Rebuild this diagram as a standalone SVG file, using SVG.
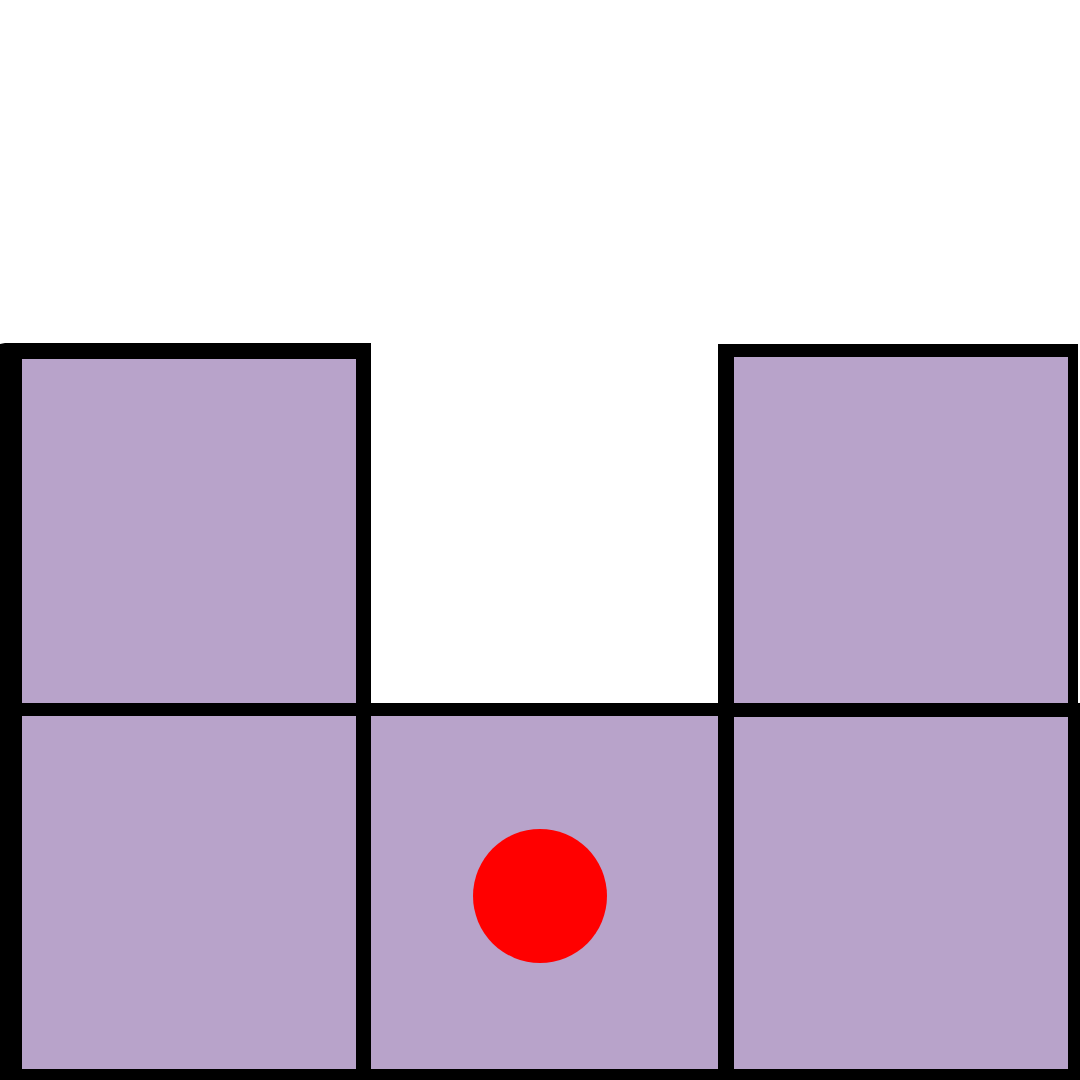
<svg xmlns="http://www.w3.org/2000/svg" width="1080" height="1080" viewBox="0 0 1080 1080">
<style>
.cell{fill:#b8a3ca}
.frame{fill:#000}
</style>
<rect width="1080" height="1080" fill="#fff"/>
<g id="frame">
<path class="frame" d="M0 344 L5 343 L371 343 L371 703 L718 703 L718 344 L1078 344 L1078 703 L1080 703 L1080 1080 L0 1080 Z"/>
</g>
<g id="cell-top-left"><rect class="cell" x="22" y="359" width="334" height="344"/></g>
<g id="cell-top-right"><rect class="cell" x="734" y="357" width="334" height="346"/></g>
<g id="cell-bottom-left"><rect class="cell" x="22" y="716" width="334" height="353"/></g>
<g id="cell-bottom-middle"><rect class="cell" x="371" y="716" width="347" height="353"/></g>
<g id="cell-bottom-right"><rect class="cell" x="734" y="717" width="334" height="352"/></g>
<g id="token"><circle cx="540" cy="896" r="67" fill="#ff0000"/></g>
</svg>
